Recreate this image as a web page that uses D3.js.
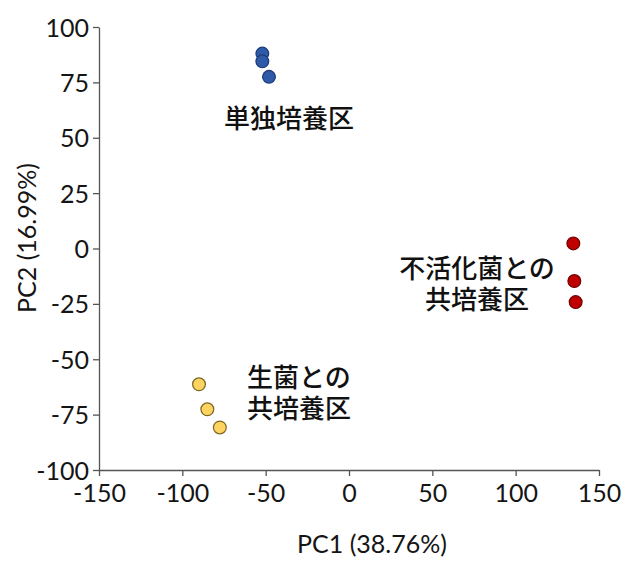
<!DOCTYPE html>
<html><head><meta charset="utf-8">
<script src="https://cdn.jsdelivr.net/npm/d3@7"></script>
<style>body{margin:0;background:#fff}</style>
</head><body>
<script>
const groups = ["単独培養区", "生菌との共培養区", "不活化菌との共培養区"];
const aloneX = [-52, -52, -48];
const aloneY = [88, 84.5, 77.5];
const liveX = [-90, -85, -77.5];
const liveY = [-61.3, -72.6, -80.8];
const inactX = [134.6, 135.2, 136];
const inactY = [2.3, -14.7, -24.2];
const xTicks = [-150, -100, -50, 0, 50, 100, 150];
const yTicks = [-100, -75, -50, -25, 0, 25, 50, 75, 100];
const fills = ["#2f5aa8", "#fdd462", "#c00000"];
const strokes = ["#1c3a78", "#7d6620", "#6e0000"];

const W = 626, H = 561;
const m = {left: 99, right: 27, top: 27, bottom: 91};
const svg = d3.select("body").append("svg").attr("width", W).attr("height", H);
const x = d3.scaleLinear().domain([-150, 150]).range([m.left, W - m.right]);
const y = d3.scaleLinear().domain([-100, 100]).range([H - m.bottom, m.top]);
const tickFont = "Lato, 'Noto Sans', sans-serif";
const fmt = d => String(d);

const xa = svg.append("g").attr("transform", `translate(0,${H - m.bottom})`)
  .call(d3.axisBottom(x).tickValues(xTicks).tickFormat(fmt).tickSize(6).tickSizeOuter(0).tickPadding(3));
const ya = svg.append("g").attr("transform", `translate(${m.left},0)`)
  .call(d3.axisLeft(y).tickValues(yTicks).tickFormat(fmt).tickSize(6).tickSizeOuter(0).tickPadding(4));
[xa, ya].forEach(a => {
  a.selectAll("path,line").attr("stroke", "#555").attr("stroke-width", 1.3);
  a.selectAll("text").attr("fill", "#151515").style("font-family", tickFont).style("font-size", "25px");
});
xa.selectAll("text").attr("dy", "0.9em");
ya.selectAll("text").attr("dy", "0.36em");

svg.append("text").attr("x", 372).attr("y", 553).attr("text-anchor", "middle")
  .style("font-family", tickFont).style("font-size", "25px").attr("fill", "#151515").text("PC1 (38.76%)");
svg.append("text").attr("transform", `translate(36,238) rotate(-90)`).attr("text-anchor", "middle")
  .style("font-family", tickFont).style("font-size", "25px").attr("fill", "#151515").text("PC2 (16.99%)");

const sets = [[aloneX, aloneY], [liveX, liveY], [inactX, inactY]];
sets.forEach((s, gi) => {
  const pts = s[0].map((v, i) => ({x: v, y: s[1][i]}));
  svg.append("g").selectAll("circle").data(pts).join("circle")
    .attr("cx", d => x(d.x)).attr("cy", d => y(d.y)).attr("r", 6.4)
    .attr("fill", fills[gi]).attr("stroke", strokes[gi]).attr("stroke-width", 1.2);
});

const jp = "'Noto Sans CJK JP', sans-serif";
function label(lines, px, py, anchor) {
  lines.forEach((l, i) => svg.append("text").attr("text-anchor", anchor)
    .style("font-family", jp).style("font-size", "26px").style("font-weight", 500).attr("fill", "#111")
    .attr("x", px).attr("y", py + i * 31).text(l));
}
label(["単独培養区"], 289, 128, "middle");
label(["生菌との", "共培養区"], 247, 387, "start");
label(["不活化菌との", "共培養区"], 477, 278, "middle");
</script>
</body></html>
